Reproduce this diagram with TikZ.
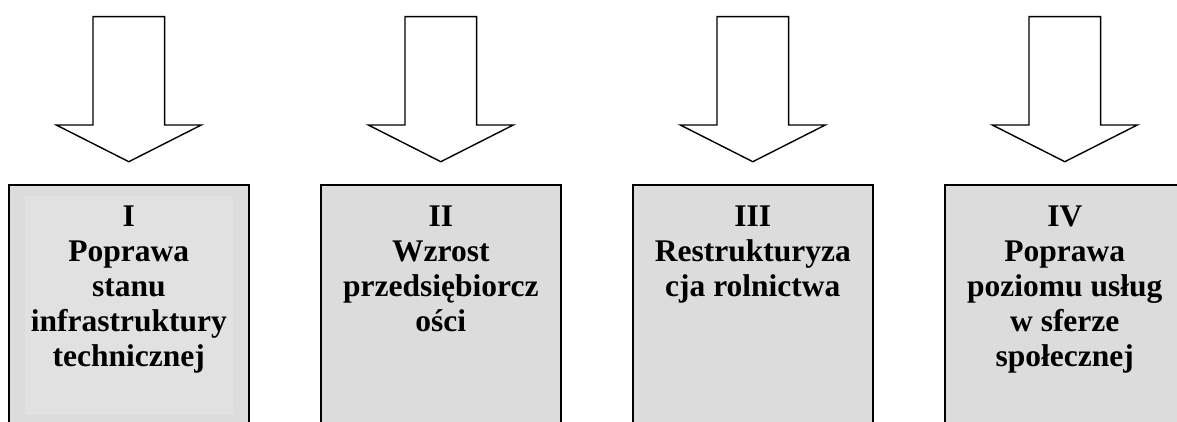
\documentclass[tikz,border=0pt]{standalone}
\usepackage{fontspec}
\setmainfont{Liberation Serif}
\definecolor{boxgray}{HTML}{DCDCDC}
\definecolor{innergray}{HTML}{E1E1E1}
\begin{document}
\begin{tikzpicture}[x=1pt,y=-1pt,
  boxnode/.style={draw=black, line width=2pt, fill=boxgray, minimum width=240pt, minimum height=255pt, inner sep=0pt, outer sep=0pt},
  boxtext/.style={font=\fontsize{31.5}{35}\selectfont\bfseries, align=center, inner sep=0pt, anchor=north},
  blockarrow/.style={draw=black, line width=1.4pt, fill=white, line join=miter}]
\useasboundingbox (0,0) rectangle (1177,422);
\clip (0,0) rectangle (1177,422);
\fill[white] (0,0) rectangle (1177,422);
% boxes
\node[boxnode] (b1) at (128.8,312.5) {};
\node[boxnode] (b2) at (440.8,312.5) {};
\node[boxnode] (b3) at (752.8,312.5) {};
\node[boxnode] (b4) at (1064.8,312.5) {};
\fill[innergray] (25,196) rectangle (232.7,415);
% arrow tips
\foreach \i in {1,2,3,4}{
  \coordinate (t\i) at ([yshift=23.3pt]b\i.north);
  \draw[blockarrow] (t\i) -- ++(-72.5,-36.7) -- ++(36.7,0) -- ++(0,-108.3) -- ++(71.6,0) -- ++(0,108.3) -- ++(36.7,0) -- cycle;
}
% texts
\node[boxtext] (l1) at ([yshift=-20.8pt]b1.north) {I\\Poprawa\\stanu\\infrastruktury\\technicznej};
\node[boxtext] (l2) at ([yshift=-20.8pt]b2.north) {II\\Wzrost\\przedsiębiorcz\\ości};
\node[boxtext] (l3) at ([yshift=-20.8pt]b3.north) {III\\Restrukturyza\\cja rolnictwa};
\node[boxtext] (l4) at ([yshift=-20.8pt]b4.north) {IV\\Poprawa\\poziomu usług\\w sferze\\społecznej};
\end{tikzpicture}
\end{document}
